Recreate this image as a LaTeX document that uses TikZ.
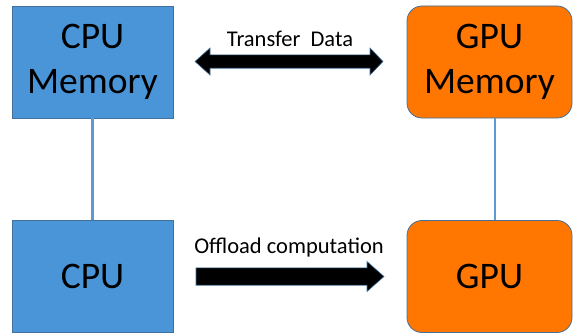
\documentclass[tikz,border=0pt]{standalone}
\usepackage{fontspec}
\setmainfont{Carlito}
\begin{document}
\begin{tikzpicture}[x=1pt,y=1pt,
  box/.style={draw=boxline, line width=0.8pt, minimum width=161pt, minimum height=112pt,
    inner sep=0pt, align=center, font=\fontsize{37.5}{45}\selectfont},
  cpubox/.style={box, fill=cpublue, rounded corners=0pt},
  gpubox/.style={box, fill=gpuorange, rounded corners=15pt, minimum width=165pt},
  link/.style={draw=linkblue, line width=2.6pt},
  blockarrow/.style={fill=black, draw=arrowedge, line width=0.6pt, line join=miter},
  arrowlabel/.style={anchor=base, inner sep=0pt, font=\fontsize{22.5}{27}\selectfont}]
\definecolor{cpublue}{HTML}{4A94D8}
\definecolor{gpuorange}{HTML}{FF7600}
\definecolor{boxline}{HTML}{41719C}
\definecolor{linkblue}{HTML}{5B9BD5}
\definecolor{arrowedge}{HTML}{41719C}
\useasboundingbox (0,0) rectangle (573,333);

% memory and processor boxes
\node[cpubox] (cpumem) at (92.5,271) {CPU\\Memory};
\node[cpubox] (cpu) at (92.5,56.5) {CPU};
\node[gpubox] (gpumem) at (489.5,271) {GPU\\Memory};
\node[gpubox] (gpu) at (489.5,56.5) {GPU};

% vertical links between memory and processor
\draw[link] (cpumem.south) -- (cpu.north);
\draw[link] ([xshift=5.5pt]gpumem.south) -- ([xshift=5.5pt]gpu.north);

% double-headed transfer arrow
\coordinate (tl) at (195,271.5);
\coordinate (tr) at (383,271.5);
\draw[blockarrow] (tl) -- ++(15,13.5) -- ++(0,-6.8) -- ([xshift=-13pt,yshift=6.7pt]tr)
  -- ++(0,6.8) -- (tr) -- ++(-13,-13.5) -- ++(0,6.8) -- ([xshift=15pt,yshift=-6.7pt]tl)
  -- ++(0,-6.8) -- cycle;
\node[arrowlabel] (transfer) at (290,286.5) {Transfer\ \ Data};

% single offload arrow
\coordinate (ot) at (196,56.5);
\coordinate (oh) at (384,56.5);
\draw[blockarrow] ([yshift=8.7pt]ot) -- ([xshift=-17pt,yshift=8.7pt]oh) -- ++(0,6.3)
  -- (oh) -- ([xshift=-17pt,yshift=-15pt]oh) -- ++(0,6.3) -- ([yshift=-8.7pt]ot) -- cycle;
\node[arrowlabel] (offload) at (289,80) {Offload computation};
\end{tikzpicture}
\end{document}
